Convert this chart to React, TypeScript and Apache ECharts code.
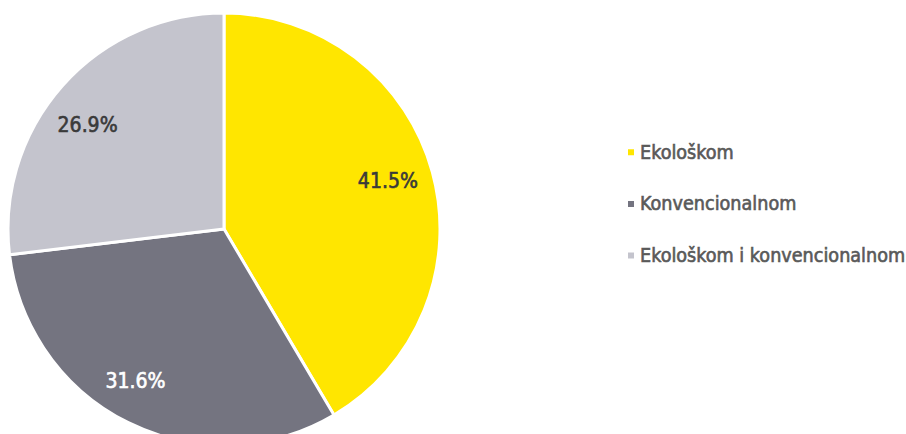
import React, { useEffect, useRef } from "react";
import * as echarts from "echarts";

const categories = ["Ekološkom", "Konvencionalnom", "Ekološkom i konvencionalnom"];
const values = [41.5, 31.6, 26.9];
const colors = ["#FFE600", "#747480", "#C4C4CD"];
const labelColors = ["#3A3A3A", "#FFFFFF", "#3A3A3A"];
const labelOffsets = [[-3, -2], [-12, -3], [-7, 11]];

const FONT = "'DejaVu Sans Condensed', 'Liberation Sans Narrow', sans-serif";

export default function App() {
  const ref = useRef<HTMLDivElement>(null);
  useEffect(() => {
    document.body.style.margin = "0";
    const chart = echarts.init(ref.current!, null, { renderer: "svg" });
    const center = [224, 229];
    chart.setOption({
      animation: false,
      backgroundColor: "#FFFFFF",
      legend: {
        orient: "vertical",
        left: 626,
        top: 142,
        padding: 0,
        itemGap: 31,
        icon: "rect",
        itemWidth: 8,
        itemHeight: 8,
        textStyle: {
          fontFamily: FONT,
          fontSize: 19.6,
          color: "#595959",
          textBorderColor: "#595959",
          textBorderWidth: 0.6,
        },
        data: categories,
      },
      series: [
        {
          type: "pie",
          center,
          radius: [0, 216],
          startAngle: 90,
          clockwise: true,
          silent: true,
          label: { show: false },
          labelLine: { show: false },
          itemStyle: { borderColor: "#FFFFFF", borderWidth: 3 },
          data: categories.map((c, i) => ({ name: c, value: values[i], itemStyle: { color: colors[i] } })),
        },
        {
          type: "pie",
          center,
          radius: [125, 215],
          startAngle: 90,
          clockwise: true,
          silent: true,
          labelLine: { show: false },
          itemStyle: { color: "rgba(0,0,0,0)" },
          label: {
            show: true,
            position: "inside",
            fontFamily: FONT,
            fontSize: 21,
            textBorderWidth: 0.6,
            formatter: (p: any) => p.value.toFixed(1) + "%",
          },
          data: categories.map((c, i) => ({
            name: c,
            value: values[i],
            label: {
              color: labelColors[i],
              textBorderColor: labelColors[i],
              offset: labelOffsets[i],
            },
          })),
        },
      ],
    });
    return () => chart.dispose();
  }, []);
  return <div ref={ref} style={{ width: 906, height: 434 }} />;
}
